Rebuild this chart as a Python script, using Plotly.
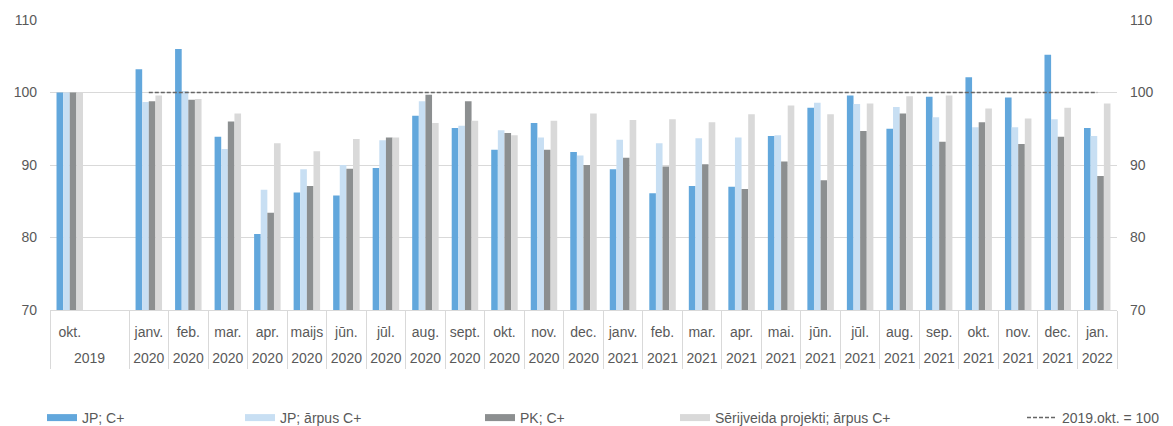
import plotly.graph_objects as go

months = ["okt.", "", "janv.", "feb.", "mar.", "apr.", "maijs", "jūn.", "jūl.", "aug.", "sept.", "okt.", "nov.", "dec.",
          "janv.", "feb.", "mar.", "apr.", "mai.", "jūn.", "jūl.", "aug.", "sep.", "okt.", "nov.", "dec.", "jan."]
years = ["2019", "", "2020", "2020", "2020", "2020", "2020", "2020", "2020", "2020", "2020", "2020", "2020", "2020",
         "2021", "2021", "2021", "2021", "2021", "2021", "2021", "2021", "2021", "2021", "2021", "2021", "2022"]

jp_c = [100, None, 103.2, 106.0, 93.9, 80.5, 86.2, 85.8, 89.6, 96.8, 95.1, 92.1, 95.8, 91.8,
        89.4, 86.1, 87.1, 87.0, 94.0, 97.9, 99.6, 95.0, 99.4, 102.1, 99.3, 105.2, 95.1]
jp_out = [100, None, 98.7, 100.2, 92.2, 86.6, 89.4, 90.0, 93.4, 98.8, 95.4, 94.8, 93.8, 91.3,
          93.5, 93.0, 93.7, 93.8, 94.1, 98.6, 98.4, 98.0, 96.6, 95.2, 95.2, 96.3, 94.0]
pk_c = [100, None, 98.8, 99.0, 96.0, 83.4, 87.1, 89.5, 93.8, 99.7, 98.8, 94.4, 92.1, 90.0,
        91.0, 89.8, 90.1, 86.7, 90.5, 87.9, 94.7, 97.1, 93.2, 95.9, 92.9, 93.9, 88.5]
serial_out = [100, None, 99.6, 99.1, 97.1, 93.0, 91.9, 93.6, 93.8, 95.8, 96.1, 94.1, 96.1, 97.1,
              96.2, 96.3, 95.9, 97.0, 98.2, 97.0, 98.5, 99.5, 99.6, 97.8, 96.4, 97.9, 98.5]
baseline = [None, None] + [100] * 25

series_names = ["JP; C+", "JP; ārpus C+", "PK; C+", "Sērijveida projekti; ārpus C+"]
series_values = [jp_c, jp_out, pk_c, serial_out]
series_colors = ["#62A7DC", "#C8DFF3", "#8C8F90", "#D9D9D9"]
baseline_name = "2019.okt. = 100"

x = list(range(len(months)))
FONT = "Liberation Sans, Arial, sans-serif"
TXT = "#595959"
GRID = "#D9D9D9"

L, R, T, B = 50, 56, 20, 116
W, H = 1173, 426
pw = W - L - R
ph = H - T - B
legend_text_px = [84, 282, 522, 717, 1064]

fig = go.Figure()
for nm, vals, col in zip(series_names, series_values, series_colors):
    fig.add_trace(go.Bar(x=x, y=vals, name=nm, marker=dict(color=col, line=dict(width=0)),
                         showlegend=False, hoverinfo="y"))
fig.add_trace(go.Scatter(x=x, y=baseline, mode="lines", name=baseline_name,
                         line=dict(color="#666666", width=1.5, dash="4px,2px"),
                         legend="legend5", connectgaps=False))
# legend swatches
for i, (nm, col) in enumerate(zip(series_names, series_colors)):
    fig.add_trace(go.Scatter(x=[None], y=[None], mode="lines", name=nm,
                             line=dict(color=col, width=7),
                             legend="legend" if i == 0 else f"legend{i+1}"))
# carrier traces so the label axes are drawn
fig.add_trace(go.Scatter(x=x, y=[None] * len(x), xaxis="x2", yaxis="y", mode="lines",
                         showlegend=False, hoverinfo="skip"))
fig.add_trace(go.Scatter(x=x, y=[None] * len(x), xaxis="x3", yaxis="y", mode="lines",
                         showlegend=False, hoverinfo="skip"))
fig.add_trace(go.Scatter(x=x, y=[None] * len(x), xaxis="x", yaxis="y2", mode="lines",
                         showlegend=False, hoverinfo="skip"))

bounds = [-0.5] + [i + 0.5 for i in range(len(months) - 1) if months[i + 1] != ""] + [len(months) - 0.5]
year_pos = []
for i in range(len(years)):
    if years[i] == "":
        continue
    if i + 1 < len(years) and years[i + 1] == "":
        year_pos.append(i + 0.5)
    else:
        year_pos.append(i)
rng = [-0.5, len(months) - 0.5]

legends = {}
for k, tx in enumerate(legend_text_px):
    key = "legend" if k == 0 else f"legend{k+1}"
    legends[key] = dict(orientation="h", x=(tx - 42 - L) / pw, xanchor="left",
                        y=(T + ph - 418) / ph, yanchor="middle",
                        font=dict(family=FONT, size=14, color=TXT), bgcolor="rgba(0,0,0,0)",
                        borderwidth=0, tracegroupgap=0)

fig.update_layout(
    width=W, height=H,
    margin=dict(l=L, r=R, t=T, b=B, autoexpand=False),
    paper_bgcolor="white", plot_bgcolor="white",
    barmode="group", bargap=0.33, bargroupgap=0.0,
    font=dict(family=FONT, size=14, color=TXT),
    xaxis=dict(range=rng, tickmode="array", tickvals=bounds, ticktext=[""] * len(bounds),
               showticklabels=False, ticks="outside", ticklen=58, tickcolor=GRID, tickwidth=1,
               showline=True, linecolor=GRID, linewidth=1, showgrid=False, zeroline=False),
    xaxis2=dict(overlaying="x", anchor="y", side="bottom", range=rng, tickmode="array",
                tickvals=[i for i, m in enumerate(months) if m != ""],
                ticktext=[m for m in months if m != ""], ticks="", showgrid=False,
                showline=False, zeroline=False, ticklabelstandoff=12,
                tickfont=dict(family=FONT, size=14, color=TXT)),
    xaxis3=dict(overlaying="x", anchor="y", side="bottom", range=rng, tickmode="array",
                tickvals=year_pos, ticktext=[y for y in years if y != ""], ticks="", showgrid=False,
                showline=False, zeroline=False, ticklabelstandoff=38,
                tickfont=dict(family=FONT, size=14, color=TXT)),
    yaxis=dict(range=[70, 110], tickmode="array", tickvals=[70, 80, 90, 100, 110],
               showgrid=True, gridcolor=GRID, gridwidth=1, zeroline=False, showline=False,
               ticks="", ticklabelstandoff=12, tickfont=dict(family=FONT, size=14, color=TXT)),
    yaxis2=dict(overlaying="y", side="right", anchor="x", range=[70, 110], tickmode="array",
                tickvals=[70, 80, 90, 100, 110], showgrid=False, zeroline=False, showline=False,
                ticks="", ticklabelstandoff=12, tickfont=dict(family=FONT, size=14, color=TXT)),
    **legends,
)

fig.write_html("out.html", config={"displayModeBar": False},
               post_script="document.body.style.margin='0';document.body.style.overflow='hidden';")
